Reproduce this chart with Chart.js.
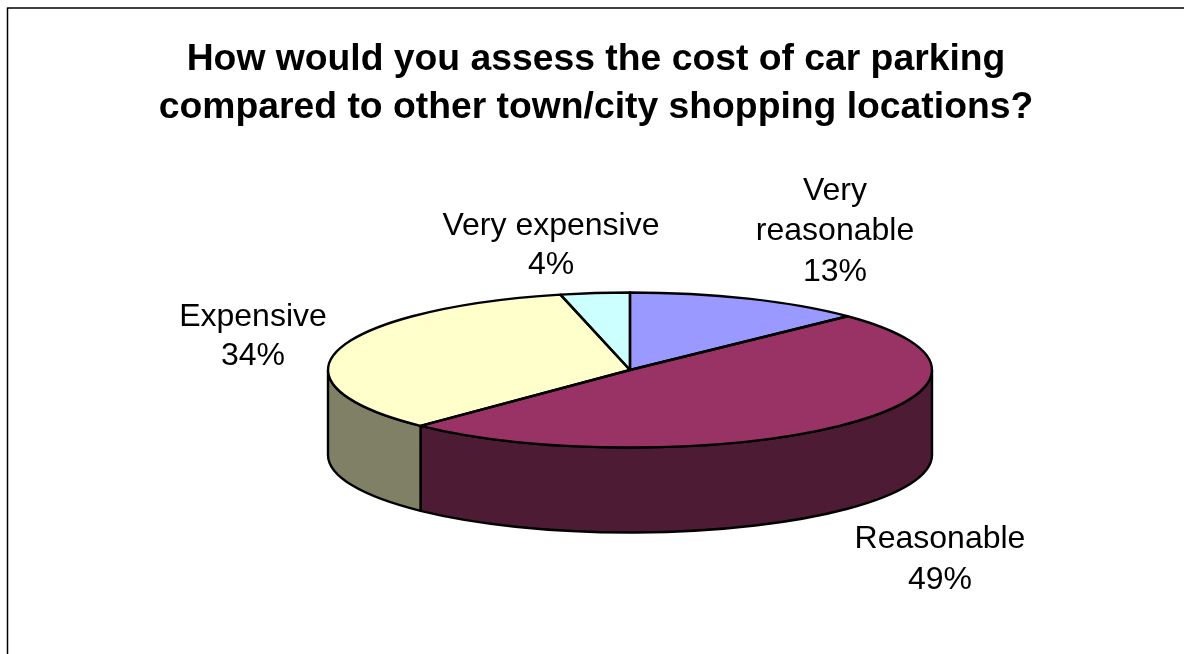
<!DOCTYPE html>
<html>
<head>
<meta charset="utf-8">
<title>Car parking cost</title>
<script src="https://cdn.jsdelivr.net/npm/chart.js@4"></script>
<style>
  html, body { margin: 0; padding: 0; background: #fff; overflow: hidden; }
  canvas { display: block; }
</style>
</head>
<body>
<canvas id="pie" width="1184" height="654"></canvas>
<script>
// Data
const categories = ['Very reasonable', 'Reasonable', 'Expensive', 'Very expensive'];
const shares = [12.8, 49.4, 34.1, 3.7];
const titleLines = ['How would you assess the cost of car parking', 'compared to other town/city shopping locations?'];

// Colours
const topColors = ['#9999ff', '#993366', '#ffffcc', '#ccffff'];
const sideColors = ['#4c4c80', '#4d1b34', '#808066', '#668080'];

// Where the flattened pie sits on the page
const pie3d = { x: 630, y: 370, rx: 302, ry: 77.5, depth: 85 };

// Label text line by line, then centre x and first baseline y of each block
const labelLines = [['Very', 'reasonable'], ['Reasonable'], ['Expensive'], ['Very expensive']];
const labelAnchors = [[835, 200], [940, 548], [253, 326], [551, 235]];
const labelLineHeights = [40.4, 40.6, 38.6, 39];
const labelFont = '32px "Liberation Sans", Arial, sans-serif';
const penWidth = 2.4;

function percentText(i) {
  const total = shares.reduce((sum, v) => sum + v, 0);
  return Math.round(shares[i] / total * 100) + '%';
}

// Chart.js only knows flat pies, so the arcs get squashed and the rim is added here
const pie3dPlugin = {
  id: 'pie3d',
  beforeDatasetsDraw(chart) {
    const ctx = chart.ctx;
    const arcs = chart.getDatasetMeta(0).data;

    // side walls, only the front half of the rim shows
    arcs.forEach((arc, i) => {
      const from = Math.max(arc.startAngle, 0);
      const to = Math.min(arc.endAngle, Math.PI);
      if (to <= from) return;
      ctx.beginPath();
      ctx.ellipse(pie3d.x, pie3d.y, pie3d.rx, pie3d.ry, 0, from, to);
      ctx.ellipse(pie3d.x, pie3d.y + pie3d.depth, pie3d.rx, pie3d.ry, 0, to, from, true);
      ctx.closePath();
      ctx.fillStyle = sideColors[i];
      ctx.fill();
      ctx.lineWidth = penWidth;
      ctx.strokeStyle = '#000';
      ctx.lineJoin = 'round';
      ctx.stroke();
    });

    ctx.save();
    applySquash(ctx, arcs[0]);
  },
  afterDatasetsDraw(chart) {
    const ctx = chart.ctx;
    const arcs = chart.getDatasetMeta(0).data;
    ctx.restore();

    // outlines are stroked after the transform is gone so the pen stays even
    arcs.forEach((arc) => {
      ctx.save();
      applySquash(ctx, arc);
      ctx.beginPath();
      ctx.moveTo(arc.x, arc.y);
      ctx.arc(arc.x, arc.y, arc.outerRadius, arc.startAngle, arc.endAngle);
      ctx.closePath();
      ctx.restore();
      ctx.lineWidth = penWidth;
      ctx.strokeStyle = '#000';
      ctx.lineJoin = 'round';
      ctx.stroke();
    });

    // data labels
    ctx.save();
    ctx.font = labelFont;
    ctx.fillStyle = '#000';
    ctx.textAlign = 'center';
    ctx.textBaseline = 'alphabetic';
    categories.forEach((name, i) => {
      const lines = labelLines[i].concat(percentText(i));
      lines.forEach((line, n) => {
        ctx.fillText(line, labelAnchors[i][0], labelAnchors[i][1] + n * labelLineHeights[i]);
      });
    });
    ctx.restore();
  },
  afterDraw(chart) {
    // frame: only the top and left edges are inside the picture
    const ctx = chart.ctx;
    ctx.save();
    ctx.strokeStyle = '#000';
    ctx.lineWidth = 1.5;
    ctx.beginPath();
    ctx.moveTo(chart.width, 8);
    ctx.lineTo(7.5, 8);
    ctx.lineTo(7.5, chart.height);
    ctx.stroke();
    ctx.restore();
  }
};

function applySquash(ctx, arc) {
  ctx.translate(pie3d.x, pie3d.y);
  ctx.scale(pie3d.rx / arc.outerRadius, pie3d.ry / arc.outerRadius);
  ctx.translate(-arc.x, -arc.y);
}

new Chart(document.getElementById('pie'), {
  type: 'pie',
  data: {
    labels: categories,
    datasets: [{
      data: shares,
      backgroundColor: topColors,
      borderWidth: 0,
      clip: false
    }]
  },
  options: {
    responsive: false,
    animation: false,
    layout: { padding: { left: 8 } },
    plugins: {
      legend: { display: false },
      tooltip: { enabled: false },
      title: {
        display: true,
        text: titleLines,
        color: '#000',
        font: { family: '"Liberation Sans", Arial, sans-serif', size: 37.3, weight: 'bold', lineHeight: 1.287 },
        padding: { top: 36, bottom: 10 }
      }
    }
  },
  plugins: [pie3dPlugin]
});
</script>
</body>
</html>
